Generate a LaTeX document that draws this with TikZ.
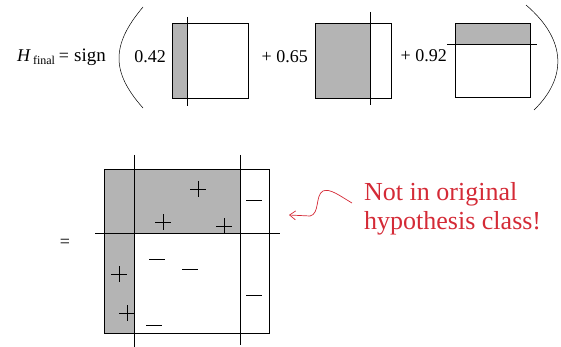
\documentclass[tikz,border=0pt]{standalone}
\usepackage{fontspec}
\setmainfont{Liberation Serif}
\newfontfamily\timesfont{Liberation Serif}
\usetikzlibrary{arrows.meta}
\definecolor{shadeGray}{HTML}{B4B4B4}
\definecolor{noteRed}{HTML}{D42A36}
\tikzset{
    hypbox/.style={draw=black,line width=0.9pt},
    shaded/.style={fill=shadeGray},
    cutline/.style={draw=black,line width=0.9pt},
    bigparen/.style={draw=black,line width=0.5pt},
    weight/.style={inner sep=0pt,font=\timesfont\fontsize{18}{21}\selectfont},
    signmark/.style={draw=black,line width=0.8pt},
    note/.style={inner sep=0pt,align=left,text=noteRed,
        font=\timesfont\fontsize{26}{29}\selectfont},
    curlyarrow/.style={-{Straight Barb[length=6pt,width=9pt]},draw=noteRed,line width=0.7pt}
}
\begin{document}
\begin{tikzpicture}[x=1pt,y=-1pt]
    \useasboundingbox (0,0) rectangle (561,347);
    \node[weight,anchor=base west] (lhs) at (17,62)
        {\textit{H}\hspace{2pt}\raisebox{-3pt}{\fontsize{12}{14}\selectfont final}\hspace{4pt}=\hspace{5pt}{\fontsize{19}{22}\selectfont sign}};
    \draw[bigparen] (143,7) .. controls (111,45) and (111,72) .. (143,108);
    \node[weight,anchor=base east] (wone) at (166,63) {0.42};
    \fill[shaded] (172,23) rectangle (187,98);
    \draw[hypbox] (172,23) rectangle (248,98);
    \draw[cutline] (187,17) -- (187,106);
    \node[weight,anchor=base east] (wtwo) at (308,63) {+ 0.65};
    \fill[shaded] (315,23) rectangle (370,98);
    \draw[hypbox] (315,23) rectangle (391,98);
    \draw[cutline] (370,12) -- (370,105);
    \node[weight,anchor=base east] (wthree) at (447,62) {+ 0.92};
    \fill[shaded] (455,23) rectangle (530,44);
    \draw[hypbox] (455,23) rectangle (530,97);
    \draw[cutline] (447,44) -- (537,44);
    \draw[bigparen] (526,5) .. controls (567,40) and (567,78) .. (534,110);
    \node[weight,anchor=center] (eq) at (65,243) {=};
    \fill[shaded] (104,169) rectangle (240,233);
    \fill[shaded] (104,233) rectangle (134,333);
    \draw[hypbox] (104,169) rectangle (269,333);
    \draw[cutline] (134,155) -- (134,347);
    \draw[cutline] (240,155) -- (240,345);
    \draw[cutline] (95,233) -- (280,233);
    \foreach \px/\py in {198/189,163/222,224/226,119/274,127/313}
        \draw[signmark] (\px-8,\py) -- (\px+8,\py) (\px,\py-8) -- (\px,\py+8);
    \foreach \mx/\my in {254/200,157/259,190/269,254/295,154/325}
        \draw[signmark] (\mx-8,\my) -- (\mx+8,\my);
    \node[note,anchor=west] (notetext) at (364,209) {Not in original\\hypothesis class!};
    \coordinate (tip) at (289,215);
    \draw[curlyarrow] ([xshift=-12pt,yshift=6pt]notetext.west)
        .. controls (340,196) and (330,188) .. (323,191)
        .. controls (315,195) and (320,214) .. (310,216)
        -- (tip);
\end{tikzpicture}
\end{document}
